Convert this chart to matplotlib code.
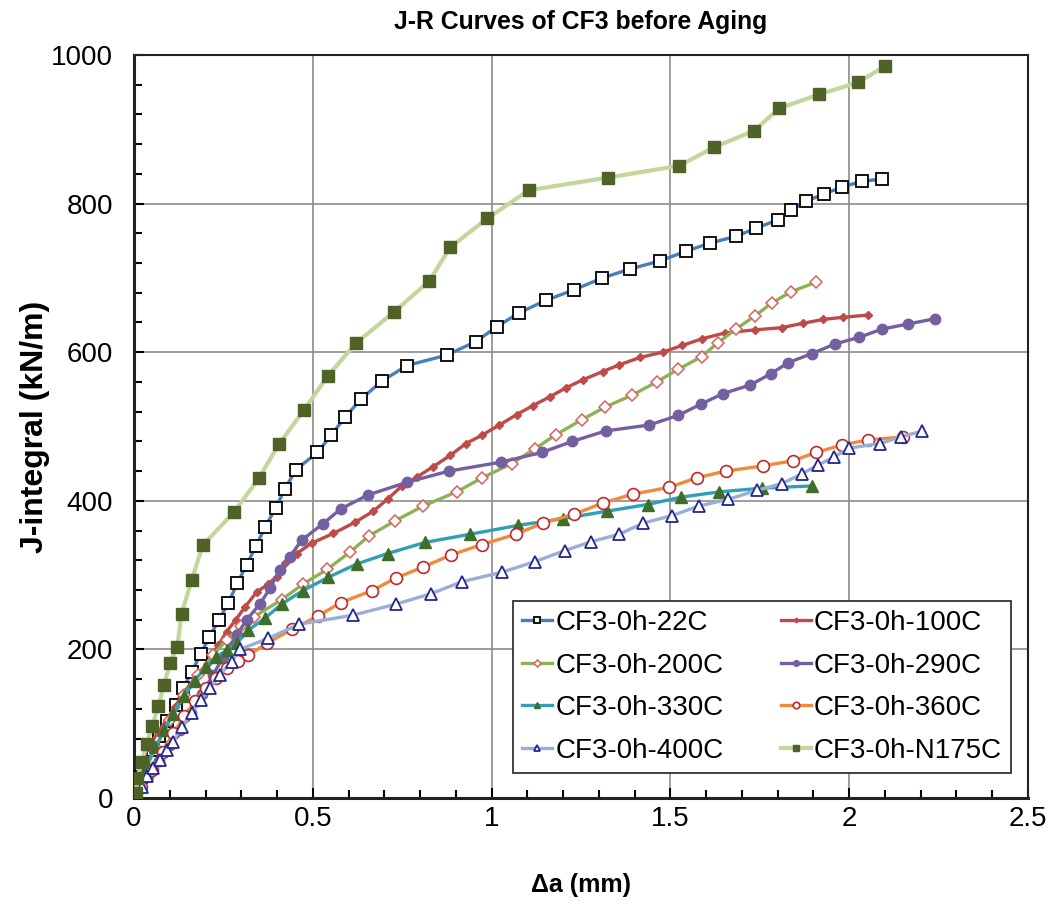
import matplotlib.pyplot as plt
from matplotlib.ticker import MultipleLocator

plt.rcParams['font.family'] = ['Liberation Sans', 'DejaVu Sans']

# J-R data: crack extension (mm) and J (kN/m)
x_22c = [0, 0.02, 0.052, 0.071, 0.093, 0.117, 0.138, 0.161, 0.187, 0.211, 0.238, 0.264,
         0.289, 0.315, 0.341, 0.367, 0.396, 0.422, 0.453, 0.513, 0.551, 0.591, 0.635,
         0.693, 0.763, 0.874, 0.955, 1.014, 1.077, 1.153, 1.231, 1.310, 1.388, 1.472,
         1.544, 1.612, 1.684, 1.740, 1.800, 1.838, 1.878, 1.930, 1.979, 2.035, 2.093]
j_22c = [0, 28, 64, 83, 104, 125, 148, 170, 194, 217, 240, 263,
         289, 314, 339, 365, 390, 416, 442, 465, 488, 513, 537,
         561, 582, 596, 614, 634, 653, 670, 684, 700, 712, 723,
         736, 747, 756, 767, 778, 791, 803, 813, 822, 830, 833]

x_100c = [0, 0.017, 0.040, 0.068, 0.091, 0.115, 0.138, 0.171, 0.203, 0.236, 0.259, 0.285,
          0.310, 0.343, 0.375, 0.399, 0.422, 0.455, 0.497, 0.557, 0.618, 0.669, 0.711,
          0.749, 0.791, 0.837, 0.884, 0.928, 0.972, 1.022, 1.070, 1.115, 1.163, 1.208,
          1.256, 1.311, 1.357, 1.416, 1.478, 1.533, 1.588, 1.653, 1.736, 1.811, 1.872,
          1.926, 1.984, 2.053]
j_100c = [0, 42, 69, 89, 105, 123, 141, 162, 181, 206, 224, 240,
          257, 277, 288, 298, 316, 329, 343, 356, 371, 386, 403,
          420, 432, 446, 461, 477, 488, 502, 516, 528, 540, 552,
          563, 574, 583, 593, 600, 609, 618, 626, 630, 633, 639,
          644, 647, 650]

x_200c = [0, 0.01, 0.03, 0.06, 0.10, 0.14, 0.18, 0.22, 0.26, 0.30, 0.336, 0.413, 0.473,
          0.541, 0.604, 0.658, 0.730, 0.809, 0.902, 0.974, 1.056, 1.121, 1.180, 1.252,
          1.317, 1.392, 1.462, 1.522, 1.587, 1.634, 1.683, 1.737, 1.783, 1.836, 1.906]
j_200c = [0, 12, 35, 68, 105, 138, 165, 192, 213, 232, 244, 267, 288,
          308, 331, 353, 373, 393, 412, 431, 450, 470, 489, 509,
          526, 542, 560, 577, 594, 613, 631, 649, 666, 681, 694]

x_290c = [0, 0.015, 0.04, 0.07, 0.10, 0.13, 0.16, 0.19, 0.22, 0.25, 0.287, 0.315, 0.352,
          0.380, 0.408, 0.436, 0.469, 0.528, 0.578, 0.655, 0.764, 0.881, 1.026, 1.140,
          1.226, 1.319, 1.441, 1.522, 1.585, 1.646, 1.724, 1.781, 1.830, 1.895, 1.960,
          2.028, 2.091, 2.165, 2.240]
j_290c = [0, 12, 30, 50, 72, 92, 115, 140, 165, 190, 219, 240, 261,
          282, 307, 325, 347, 369, 389, 408, 425, 440, 452, 465,
          480, 494, 502, 515, 530, 544, 556, 571, 586, 598, 611,
          620, 631, 638, 645]

x_330c = [0, 0.015, 0.035, 0.06, 0.085, 0.11, 0.14, 0.17, 0.20, 0.23, 0.26, 0.287, 0.320,
          0.366, 0.413, 0.472, 0.543, 0.623, 0.709, 0.814, 0.940, 1.075, 1.200, 1.322,
          1.436, 1.531, 1.637, 1.755, 1.895]
j_330c = [0, 20, 45, 68, 92, 113, 137, 158, 176, 190, 199, 208, 226,
          242, 261, 279, 297, 315, 329, 344, 355, 367, 376, 386,
          395, 405, 412, 417, 420]

x_360c = [0, 0.02, 0.05, 0.08, 0.11, 0.14, 0.17, 0.20, 0.23, 0.26, 0.29, 0.320, 0.371,
          0.441, 0.515, 0.578, 0.665, 0.732, 0.809, 0.886, 0.972, 1.068, 1.143, 1.231,
          1.311, 1.395, 1.496, 1.574, 1.655, 1.760, 1.844, 1.906, 1.979, 2.053, 2.151]
j_360c = [0, 15, 38, 62, 87, 110, 130, 148, 162, 175, 185, 192, 208,
          227, 245, 263, 279, 296, 311, 327, 341, 355, 370, 382,
          397, 409, 418, 431, 440, 447, 454, 465, 475, 482, 486]

x_400c = [0, 0.007, 0.022, 0.035, 0.054, 0.073, 0.091, 0.110, 0.133, 0.161, 0.187, 0.213,
          0.240, 0.273, 0.296, 0.376, 0.462, 0.612, 0.733, 0.831, 0.916, 1.030, 1.120,
          1.205, 1.278, 1.357, 1.424, 1.504, 1.580, 1.662, 1.741, 1.811, 1.867, 1.912,
          1.958, 2.000, 2.086, 2.145, 2.205]
j_400c = [0, 4, 15, 29, 41, 51, 65, 76, 96, 114, 132, 148,
          166, 183, 200, 215, 234, 246, 261, 275, 291, 304, 318,
          333, 345, 355, 370, 380, 393, 402, 414, 423, 436, 448,
          459, 471, 477, 486, 494]

x_n175c = [0, 0.006, 0.009, 0.0215, 0.0355, 0.051, 0.068, 0.084, 0.101, 0.121, 0.133,
           0.161, 0.192, 0.280, 0.350, 0.405, 0.475, 0.542, 0.620, 0.727, 0.826, 0.884,
           0.988, 1.104, 1.326, 1.525, 1.623, 1.734, 1.804, 1.916, 2.025, 2.100]
j_n175c = [0, 7, 27, 48, 73, 97, 124, 152, 182, 203, 248,
           293, 340, 385, 431, 476, 522, 568, 612, 654, 696, 741,
           780, 818, 835, 851, 876, 898, 928, 947, 963, 985]

labels = ['CF3-0h-22C', 'CF3-0h-100C', 'CF3-0h-200C', 'CF3-0h-290C',
          'CF3-0h-330C', 'CF3-0h-360C', 'CF3-0h-400C', 'CF3-0h-N175C']

fig = plt.figure(figsize=(10.51, 9.01), dpi=100)
ax = fig.add_axes([0.1275, 0.1143, 0.8506, 0.8247])

lw = 2.4
h = []
# 22C: blue line, open black squares
h += ax.plot(x_22c, j_22c, color='#4A7EBB', lw=lw, marker='s', ms=8.5,
             mfc='white', mec='black', mew=1.3, label=labels[0], zorder=3)
# 100C: red line, small red diamonds
h += ax.plot(x_100c, j_100c, color='#BE4B48', lw=lw, marker='D', ms=4.5,
             mfc='#BE4B48', mec='#BE4B48', label=labels[1], zorder=3)
# 200C: green line, open diamonds with reddish edge
h += ax.plot(x_200c, j_200c, color='#8DB255', lw=lw, marker='D', ms=6.5,
             mfc='white', mec='#D9625E', mew=1.1, label=labels[2], zorder=3)
# 290C: purple, filled circles
h += ax.plot(x_290c, j_290c, color='#7460A0', lw=lw, marker='o', ms=7.5,
             mfc='#7460A0', mec='#7460A0', label=labels[3], zorder=3)
# 330C: teal line, dark green filled triangles
h += ax.plot(x_330c, j_330c, color='#31A0B5', lw=lw, marker='^', ms=8.5,
             mfc='#3F6E2A', mec='#3F6E2A', label=labels[4], zorder=3)
# 360C: orange line, open circles with red edge
h += ax.plot(x_360c, j_360c, color='#F08A3C', lw=lw, marker='o', ms=8.5,
             mfc='white', mec='#C0282B', mew=1.2, label=labels[5], zorder=3)
# 400C: pale blue line, open triangles navy edge
h += ax.plot(x_400c, j_400c, color='#9AAED6', lw=lw, marker='^', ms=9,
             mfc='white', mec='#22288F', mew=1.3, label=labels[6], zorder=3)
# N175C: pale green line, olive squares
h += ax.plot(x_n175c, j_n175c, color='#C3D69B', lw=lw + 0.6, marker='s', ms=9,
             mfc='#4F6228', mec='#4F6228', label=labels[7], zorder=3)

ax.set_xlim(0, 2.5)
ax.set_ylim(0, 1000)
ax.xaxis.set_minor_locator(MultipleLocator(0.1))
ax.yaxis.set_major_locator(MultipleLocator(200))
ax.yaxis.set_minor_locator(MultipleLocator(40))
ax.set_xticks([0, 0.5, 1, 1.5, 2, 2.5])
ax.set_xticklabels(['0', '0.5', '1', '1.5', '2', '2.5'], fontsize=20)
ax.tick_params(axis='y', labelsize=20)
ax.tick_params(which='both', direction='in', top=False, right=False, width=1.5)
ax.tick_params(which='major', length=7)
ax.tick_params(axis='y', which='major', pad=15)
ax.tick_params(axis='x', which='major', pad=6)
ax.tick_params(which='minor', length=6)
ax.grid(True, which='major', color='#8C8C8C', lw=1.2)
ax.set_axisbelow(True)
for s in ax.spines.values():
    s.set_color('#222222')
    s.set_linewidth(1.5)
ax.spines['left'].set_linewidth(2.2)
ax.spines['bottom'].set_linewidth(2.2)

ax.set_title('J-R Curves of CF3 before Aging', fontsize=17.8, fontweight='bold', pad=19)
ax.set_xlabel('Δa (mm)', fontsize=18, fontweight='bold')
ax.set_ylabel('J-integral (kN/m)', fontsize=23, fontweight='bold')
ax.xaxis.set_label_coords(0.5, -0.101)
ax.yaxis.set_label_coords(-0.094, 0.5)

# legend filled row by row like the original
order = [0, 2, 4, 6, 1, 3, 5, 7]
leg = ax.legend([h[i] for i in order], [labels[i] for i in order],
                loc='lower left', bbox_to_anchor=(0.424, 0.034, 0.557, 0.232),
                mode='expand', ncol=2, fontsize=20, frameon=True, fancybox=False,
                edgecolor='#333333', framealpha=1, handlelength=1.1,
                handletextpad=0.1, borderpad=0.32, labelspacing=0.6,
                columnspacing=0.5, markerscale=0.55, borderaxespad=0)
leg.get_frame().set_linewidth(1.3)

fig.savefig('out.png', dpi=100)
